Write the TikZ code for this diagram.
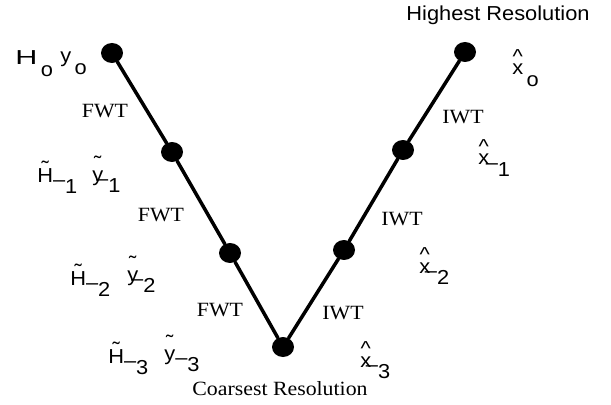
\documentclass[tikz,border=0pt]{standalone}
\usepackage{fontspec}
\setmainfont{Liberation Serif}[FakeStretch=1.08]
\setsansfont{Liberation Sans}[FakeStretch=1.08]
\usetikzlibrary{shapes.geometric}

% lowered subscript, raised minus, accents set over a letter
\newcommand{\sub}[1]{\raisebox{-6.5pt}{#1}}
\newcommand{\mns}[1]{\kern#1\raisebox{4pt}{\textendash}}
\newcommand{\tld}[2]{\ooalign{#2\cr\hidewidth\raisebox{#1}{\char"02DC}\hidewidth\cr}}
\newcommand{\hatx}{\ooalign{x\cr\hidewidth\raisebox{6.5pt}{\textasciicircum}\hidewidth\cr}}
\newcommand{\figfont}{\fontsize{11.5}{13}\selectfont}

\begin{document}
\begin{tikzpicture}[
  x=0.02cm,
  y=-0.02cm,
  line cap=round,
  line join=round,
  dot/.style={ellipse, fill, inner sep=0pt,
    minimum width=0.44cm, minimum height=0.40cm},
  op/.style={font=\figfont\rmfamily, inner sep=0pt},
  sym/.style={font=\figfont\sffamily, anchor=base west, inner sep=0pt}
]
  \useasboundingbox (0,0) rectangle (611,405);

  % Analysis branch (left)
  \node[dot] (F0) at (112,53)  {};
  \node[dot] (F1) at (172,152) {};
  \node[dot] (F2) at (230,253) {};

  % Coarsest level
  \node[dot] (C)  at (283,347) {};

  % Synthesis branch (right)
  \node[dot] (I2) at (344,250) {};
  \node[dot] (I1) at (403,150) {};
  \node[dot] (I0) at (465,52)  {};

  % The V
  \draw[line width=2pt] (F0)--(F1)--(F2)--(C)--(I2)--(I1)--(I0);

  % Transform labels
  \node[op] (fwt0) at (105,111) {FWT};
  \node[op] (fwt1) at (161,215) {FWT};
  \node[op] (fwt2) at (220,310) {FWT};
  \node[op] (iwt0) at (463,117) {IWT};
  \node[op] (iwt1) at (402,219) {IWT};
  \node[op] (iwt2) at (343,313) {IWT};

  % Resolution labels
  \node[op] (coarse) at (280,389) {Coarsest Resolution};
  \node[op, font=\figfont\sffamily] (high) at (498,15) {Highest Resolution};

  % Operators and data, left
  \node[sym] (H0) at (15,65)   {\scalebox{1.4}[1]{H}\sub{\,o}};
  \node[sym] (y0) at (60,63)   {y\sub{\,o}};
  \node[sym] (H1) at (37,182)  {\tld{3.6pt}{H}\sub{\mns{0pt}1}};
  \node[sym] (y1) at (92,181)  {\tld{6pt}{y}\sub{\mns{-4pt}1}};
  \node[sym] (H2) at (70,285)  {\tld{3.6pt}{H}\sub{\mns{0pt}2}};
  \node[sym] (y2) at (127,281) {\tld{6pt}{y}\sub{\mns{-4pt}2}};
  \node[sym] (H3) at (108,363) {\tld{3.6pt}{H}\sub{\mns{0pt}3}};
  \node[sym] (y3) at (164,360) {\tld{6pt}{y}\sub{\mns{0pt}3}};

  % Estimates, right
  \node[sym] (x0) at (512,75)  {\hatx\sub{\,o}};
  \node[sym] (x1) at (478,165) {\hatx\sub{\mns{-2pt}1}};
  \node[sym] (x2) at (419,273) {\hatx\sub{\mns{-3pt}2}};
  \node[sym] (x3) at (360,367) {\hatx\sub{\mns{-3pt}3}};
\end{tikzpicture}
\end{document}
